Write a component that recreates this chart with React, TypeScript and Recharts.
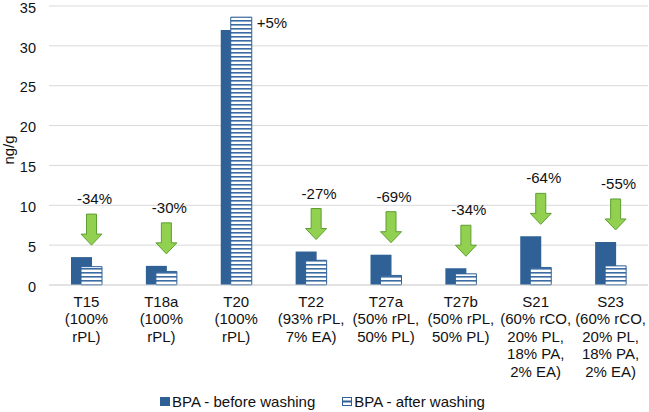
import React from 'react';
import { BarChart, Bar, XAxis, YAxis, CartesianGrid, Legend, LabelList } from 'recharts';

const categories = ['T15', 'T18a', 'T20', 'T22', 'T27a', 'T27b', 'S21', 'S23'];
const categoryLines = [
  ['T15', '(100%', 'rPL)'],
  ['T18a', '(100%', 'rPL)'],
  ['T20', '(100%', 'rPL)'],
  ['T22', '(93% rPL,', '7% EA)'],
  ['T27a', '(50% rPL,', '50% PL)'],
  ['T27b', '(50% rPL,', '50% PL)'],
  ['S21', '(60% rCO,', '20% PL,', '18% PA,', '2% EA)'],
  ['S23', '(60% rCO,', '20% PL,', '18% PA,', '2% EA)'],
];
const beforeWashing = [3.5, 2.4, 32.0, 4.2, 3.8, 2.1, 6.1, 5.4];
const afterWashing = [2.3, 1.7, 33.6, 3.1, 1.2, 1.4, 2.2, 2.4];
const changeLabels = ['-34%', '-30%', '+5%', '-27%', '-69%', '-34%', '-64%', '-55%'];
const yTicks = [0, 5, 10, 15, 20, 25, 30, 35];
const seriesNames = ['BPA - before washing', 'BPA - after washing'];

const data = categories.map((c, i) => ({
  name: c,
  before: beforeWashing[i],
  after: afterWashing[i],
  change: changeLabels[i],
}));

const BLUE = '#2F6096';
const FONT = '"Liberation Sans", Arial, sans-serif';
const TEXT = '#111';
const FS = 15;

const XTick = (props: any) => {
  const { x, y, payload } = props;
  const idx = categories.indexOf(payload.value);
  const lines = categoryLines[idx] || [payload.value];
  return (
    <g>
      {lines.map((l, i) => (
        <text key={i} x={x} y={y + 21.7 + i * 17.45} textAnchor="middle" fontSize={FS} fill={TEXT} fontFamily={FONT}>
          {l}
        </text>
      ))}
    </g>
  );
};

const ChangeLabel = (props: any) => {
  const { x, y, width, height, index, value } = props;
  const d = data[index];
  if (!d) return null;
  const bottom = y + height;
  const ppu = height / d.after;
  if (d.after > d.before) {
    return (
      <text x={x + width + 5} y={y + 10.5} fontSize={FS} fill={TEXT} fontFamily={FONT}>
        {value}
      </text>
    );
  }
  const beforeTop = bottom - d.before * ppu;
  const cx = x + width / 2;
  const tip = beforeTop - 12;
  const top = tip - 31;
  const path = `M${cx - 5},${top} L${cx + 5},${top} L${cx + 5},${tip - 11} L${cx + 10.5},${tip - 11} L${cx},${tip} L${cx - 10.5},${tip - 11} L${cx - 5},${tip - 11} Z`;
  return (
    <g>
      <path d={path} fill="#92D050" stroke="#5E9E33" strokeWidth={1} />
      <text x={cx + 3} y={top - 10} textAnchor="middle" fontSize={FS} fill={TEXT} fontFamily={FONT}>
        {value}
      </text>
    </g>
  );
};

const LegendContent = () => (
  <div style={{ display: 'flex', justifyContent: 'center', alignItems: 'center', fontFamily: FONT, fontSize: FS, color: TEXT, height: 22, marginLeft: -4 }}>
    <div style={{ display: 'flex', alignItems: 'center', marginRight: 27 }}>
      <svg width={10} height={9} style={{ marginRight: 2 }}>
        <rect x={0} y={0} width={10} height={9} fill={BLUE} />
      </svg>
      <span>{seriesNames[0]}</span>
    </div>
    <div style={{ display: 'flex', alignItems: 'center' }}>
      <svg width={10} height={9} style={{ marginRight: 2 }}>
        <rect x={0.5} y={0.5} width={9} height={8} fill="#fff" stroke={BLUE} />
        <rect x={0.5} y={3.5} width={9} height={2} fill={BLUE} />
      </svg>
      <span>{seriesNames[1]}</span>
    </div>
  </div>
);

const YLabel = () => (
  <text x={14} y={150} transform="rotate(-90, 14, 150)" textAnchor="middle" fontSize={FS} fill={TEXT} fontFamily={FONT}>
    ng/g
  </text>
);

export default function App() {
  return (
    <div style={{ position: 'absolute', left: 0, top: 0, width: 649, height: 412, background: '#fff' }}>
      <BarChart
        width={649}
        height={412}
        data={data}
        margin={{ top: 6, right: 1, left: 0, bottom: 0 }}
        barSize={21}
        barGap={-11}
        style={{ fontFamily: FONT }}
      >
        <defs>
          <pattern id="hstripes" patternUnits="userSpaceOnUse" width={4} height={4}>
            <rect x={0} y={0} width={4} height={4} fill="#ffffff" />
            <rect x={0} y={0} width={4} height={1.6} fill="#3B6CA3" />
          </pattern>
        </defs>
        <CartesianGrid vertical={false} stroke="#D9D9D9" />
        <XAxis
          dataKey="name"
          interval={0}
          tickLine={false}
          tickSize={0}
          tickMargin={0}
          height={105}
          axisLine={{ stroke: '#D9D9D9' }}
          tick={<XTick />}
        />
        <YAxis
          width={49}
          domain={[0, 35]}
          ticks={yTicks}
          interval={0}
          tickLine={false}
          axisLine={false}
          tickMargin={7}
          tick={{ fontSize: 14.5, fill: TEXT, fontFamily: FONT, dy: 1.5 }}
          label={<YLabel />}
        />
        <Legend verticalAlign="bottom" wrapperStyle={{ height: 22, bottom: 0, left: 0, width: 649 }} content={<LegendContent />} />
        <Bar dataKey="before" name={seriesNames[0]} fill={BLUE} isAnimationActive={false} />
        <Bar dataKey="after" name={seriesNames[1]} fill="url(#hstripes)" stroke={BLUE} strokeWidth={1} isAnimationActive={false}>
          <LabelList dataKey="change" content={<ChangeLabel />} />
        </Bar>
      </BarChart>
    </div>
  );
}
